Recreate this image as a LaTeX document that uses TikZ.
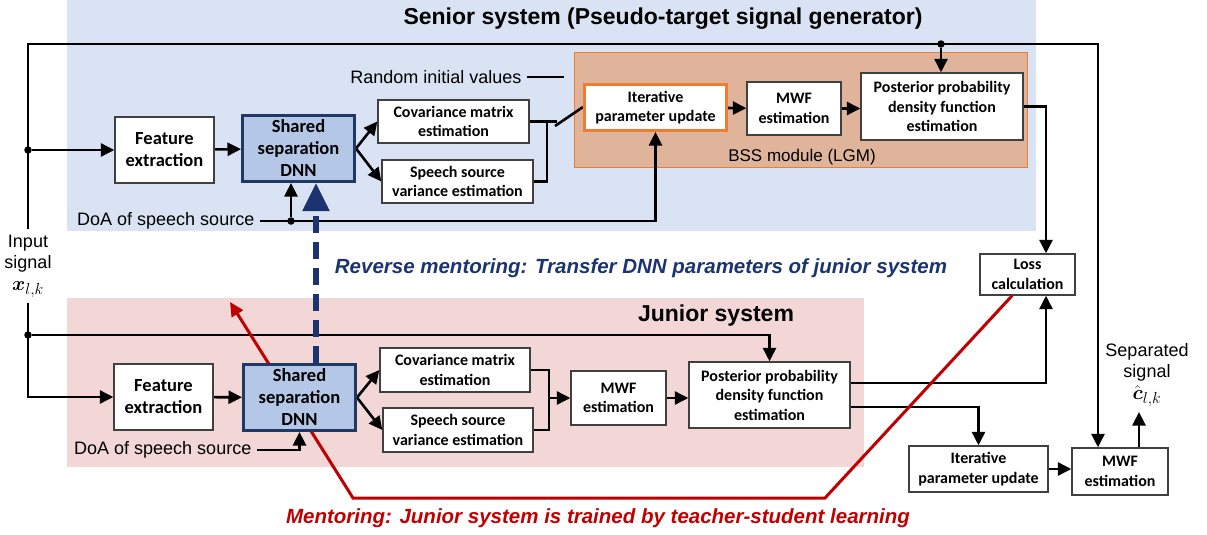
\documentclass[tikz,border=0pt]{standalone}
\usepackage{fix-cm}
\usepackage{amsmath}
\usepackage{fontspec}
\setmainfont{Liberation Sans}
\newfontfamily\calibri{Carlito}
\usetikzlibrary{arrows.meta, calc}
\DeclareMathSizes{18}{20}{16}{12}

\definecolor{seniorbg}{HTML}{DAE3F3}
\definecolor{juniorbg}{HTML}{F3D6D6}
\definecolor{bssfill}{HTML}{E0B49B}
\definecolor{bssline}{HTML}{ED7D31}
\definecolor{dnnfill}{HTML}{B4C7E7}
\definecolor{dnnline}{HTML}{1F3864}
\definecolor{navy}{HTML}{1B3470}
\definecolor{mentorred}{HTML}{C00000}

\pgfdeclarelayer{back}
\pgfdeclarelayer{wires}
\pgfdeclarelayer{mentor}
\pgfsetlayers{back,wires,mentor,main}

\tikzset{
  blk/.style={draw=black!75, fill=white, line width=1.3pt, align=center, inner sep=1pt,
    font=\calibri\bfseries\fontsize{16}{19.5}\selectfont},
  bigblk/.style={blk, font=\calibri\bfseries\fontsize{18.5}{22}\selectfont},
  dnnblk/.style={bigblk, draw=dnnline, fill=dnnfill, line width=3pt},
  wire/.style={line width=2.6pt},
  sig/.style={wire, -{Triangle[length=13.5pt,width=13pt]}},
  lbl/.style={font=\fontsize{18}{21.5}\selectfont, align=center, inner sep=1pt},
  ttl/.style={font=\bfseries\fontsize{23}{27}\selectfont, inner sep=1pt},
  junc/.style={circle, fill=black, inner sep=0pt, minimum size=7.5pt},
}

\begin{document}
\begin{tikzpicture}[x=1pt, y=-1pt]
  \useasboundingbox (0,0) rectangle (1207,535);

  % shaded regions
  \begin{pgfonlayer}{back}
    \fill[seniorbg] (67,0) rectangle (1036,231);
    \filldraw[fill=bssfill, draw=bssline, line width=1pt] (574,53) rectangle (1027,167);
    \fill[juniorbg] (67,298) rectangle (864,467);
  \end{pgfonlayer}

  % titles and labels
  \node[ttl] (ttlS) at (663,19) {Senior system (Pseudo-target signal generator)};
  \node[ttl] (ttlJ) at (716,316) {Junior system};
  \node[lbl] (rand) at (436,77) {Random initial values};
  \node[lbl, font=\fontsize{17}{20}\selectfont] (bss) at (802,157) {BSS module (LGM)};
  \node[lbl, anchor=west] (doaS) at (76,221) {DoA of speech source};
  \node[lbl, anchor=west] (doaJ) at (73,450) {DoA of speech source};
  \node[lbl, inner sep=5pt] (inp) at (28,266) {Input\\signal\\$\boldsymbol{x}_{l,k}$};
  \node[lbl] (sep) at (1147,375) {Separated\\signal\\$\hat{\boldsymbol{c}}_{l,k}$};
  \node[ttl, font=\bfseries\itshape\fontsize{20.5}{24}\selectfont, text=navy] (rev) at (641,268)
    {Reverse mentoring: Transfer DNN parameters of junior system};
  \node[ttl, font=\bfseries\itshape\fontsize{20.5}{24}\selectfont, text=mentorred] (ment) at (598,518)
    {Mentoring: Junior system is trained by teacher-student learning};

  % senior system blocks
  \node[bigblk, minimum width=99, minimum height=66] (feS) at (164.5,150) {Feature\\extraction};
  \node[dnnblk, minimum width=112, minimum height=66] (dnnS) at (298.5,148.5) {Shared\\separation\\DNN};
  \node[blk, minimum width=151, minimum height=43] (covS) at (453.5,121.5) {Covariance matrix\\estimation};
  \node[blk, minimum width=151, minimum height=43] (varS) at (457.5,181.5) {Speech source\\variance estimation};
  \node[blk, draw=bssline, line width=3pt, minimum width=142, minimum height=46] (itS) at (655.5,107.5) {Iterative\\parameter update};
  \node[blk, minimum width=94, minimum height=53] (mwfS) at (794,108.5) {MWF\\estimation};
  \node[blk, minimum width=162, minimum height=67] (postS) at (942,106.5) {Posterior probability\\density function\\estimation};
  \node[blk, minimum width=95, minimum height=41] (loss) at (1027.5,274.5) {Loss\\calculation};

  % junior system blocks
  \node[bigblk, minimum width=99, minimum height=66] (feJ) at (163.5,397) {Feature\\extraction};
  \node[dnnblk, minimum width=112, minimum height=66] (dnnJ) at (299.5,397.5) {Shared\\separation\\DNN};
  \node[blk, minimum width=150, minimum height=44] (covJ) at (455,370) {Covariance matrix\\estimation};
  \node[blk, minimum width=150, minimum height=44] (varJ) at (458,430) {Speech source\\variance estimation};
  \node[blk, minimum width=95, minimum height=54] (mwfJ) at (618.5,398) {MWF\\estimation};
  \node[blk, minimum width=161, minimum height=66] (postJ) at (769.5,395) {Posterior probability\\density function\\estimation};
  \node[blk, minimum width=139, minimum height=46] (itJ) at (978.5,469) {Iterative\\parameter update};
  \node[blk, minimum width=96, minimum height=47] (mwfO) at (1120,471.5) {MWF\\estimation};

  % junctions and free ends
  \node[junc] (jS) at (28,150) {};
  \node[junc] (jJ) at (28,335) {};
  \node[junc] (jT) at (941,44) {};
  \node[junc] (jD) at (291,221) {};
  \coordinate (topR) at (1098,44);
  \coordinate (swJ) at (547,121.5);
  \coordinate (swIn) at (557,121.5);
  \coordinate (swL) at (555,126);
  \coordinate (swR) at (583,107);
  \coordinate (randEnd) at (564,77);
  \coordinate (mJ) at (549,398);
  \coordinate (outEnd) at (1139,412);
  \coordinate (mA) at (825,498);
  \coordinate (mB) at (353,498);
  \coordinate (mEnd) at (230,302);

  \begin{pgfonlayer}{wires}
    % input signal distribution
    \draw[sig] (inp.north) |- (topR) -- (topR |- mwfO.north);
    \draw[sig] (jT) -- (jT |- postS.north);
    \draw[sig] (jS) -- (feS);
    \draw[sig] (inp.south) |- (feJ.west);
    \draw[sig] (jJ) -| (postJ.north);

    % senior path
    \draw[sig] (feS) -- (dnnS);
    \draw[sig] (dnnS.east) -- (covS.west);
    \draw[sig] (dnnS.east) -- (varS.west);
    \draw[wire] (covS.east) -- (swIn);
    \draw[wire] (varS.east) -| (swJ);
    \draw[wire] (swL) -- (swR);
    \draw[wire] ([xshift=4pt]rand.east) -- (randEnd);
    \draw[sig] ([xshift=4pt]doaS.east) -| (itS.south);
    \draw[sig] (jD) -- (jD |- dnnS.south);
    \draw[sig] (itS) -- (mwfS);
    \draw[sig] (mwfS) -- (mwfS.east -| postS.west);
    \draw[sig] (postS.east) -| ([xshift=18.5pt]loss.north);

    % junior path
    \draw[sig] (feJ) -- (dnnJ);
    \draw[sig] (dnnJ.east) -- (covJ.west);
    \draw[sig] (dnnJ.east) -- (varJ.west);
    \draw[wire] (covJ.east) -| (mJ) |- (varJ.east);
    \draw[sig] (mJ) -- (mwfJ.west);
    \draw[sig] (mwfJ.east) -- (mwfJ.east -| postJ.west);
    \draw[sig] ([xshift=4pt]doaJ.east) -| (dnnJ.south);
    \draw[sig] ([yshift=12pt]postJ.east) -| ([xshift=18.5pt]loss.south);
    \draw[sig] ([yshift=-12pt]postJ.east) -| (itJ.north);
    \draw[sig] (itJ.east) -- (itJ.east -| mwfO.west);
    \draw[sig] ([xshift=19pt]mwfO.north) -- (outEnd);
  \end{pgfonlayer}

  \begin{pgfonlayer}{mentor}
    % mentoring and reverse mentoring
    \draw[mentorred, line width=3pt, -{Triangle[length=14pt,width=13pt]}]
      ($(loss.south west)!0.34!(loss.south east)$) -- (mA) -- (mB) -- (mEnd);
    \draw[navy, line width=5.5pt, dash pattern=on 17pt off 9pt, -{Triangle[length=28pt,width=26pt]}]
      ([xshift=16.5pt]dnnJ.north) -- ([xshift=17.5pt]dnnS.south);
  \end{pgfonlayer}
\end{tikzpicture}
\end{document}
